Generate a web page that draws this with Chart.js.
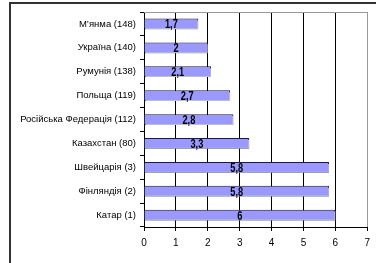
<!DOCTYPE html>
<html>
<head>
<meta charset="utf-8">
<script src="https://cdn.jsdelivr.net/npm/chart.js@4"></script>
<style>
  html, body { margin: 0; padding: 0; background: #fff; }
  #wrap { position: relative; width: 376px; height: 263px; overflow: hidden; }
  #frame { position: absolute; left: 9px; top: 2px; width: 400px; height: 300px;
           border-left: 2px solid #333; border-top: 2px solid #333; }
  canvas { position: absolute; left: 0; top: 0; }
</style>
</head>
<body>
<div id="wrap">
  <div id="frame"></div>
  <canvas id="chart" width="376" height="263"></canvas>
</div>
<script>
// Countries with their rank, top to bottom as in the picture
const countries = [
    'М’янма (148)',
    'Україна (140)',
    'Румунія (138)',
    'Польща (119)',
    'Російська Федерація (112)',
    'Казахстан (80)',
    'Швейцарія (3)',
    'Фінляндія (2)',
    'Катар (1)'
];
const scores = [1.7, 2, 2.1, 2.7, 2.8, 3.3, 5.8, 5.8, 6];
const xTicks = [0, 1, 2, 3, 4, 5, 6, 7];

// Draw value labels in the middle of each bar (narrow bold text)
const barLabels = {
    id: 'barLabels',
    afterDatasetsDraw(chart) {
        const ctx = chart.ctx;
        const meta = chart.getDatasetMeta(0);
        meta.data.forEach((bar, i) => {
            const text = String(scores[i]).replace('.', ',');
            const cx = (bar.x + bar.base) / 2;
            ctx.save();
            ctx.translate(cx, bar.y + 1);
            ctx.scale(0.74, 1);
            ctx.font = 'bold 12.5px "Liberation Sans", Arial, sans-serif';
            ctx.fillStyle = '#000';
            ctx.textAlign = 'center';
            ctx.textBaseline = 'middle';
            ctx.fillText(text, 0, 0);
            ctx.restore();
        });
    }
};

// Gray frame on top of plot area, and bar shadows
const plotFrame = {
    id: 'plotFrame',
    beforeDatasetDraw(chart) {
        const ctx = chart.ctx;
        ctx.save();
        ctx.shadowColor = '#c0c0c0';
        ctx.shadowOffsetX = 1;
        ctx.shadowOffsetY = 1;
        ctx.shadowBlur = 0;
    },
    afterDatasetDraw(chart) {
        chart.ctx.restore();
    },
    afterDraw(chart) {
        const { ctx, chartArea } = chart;
        ctx.save();
        ctx.strokeStyle = '#999';
        ctx.lineWidth = 1;
        ctx.beginPath();
        ctx.moveTo(chartArea.left, chartArea.top + 0.5);
        ctx.lineTo(chartArea.right, chartArea.top + 0.5);
        ctx.stroke();
        ctx.restore();
    }
};

new Chart(document.getElementById('chart'), {
    type: 'bar',
    data: {
        labels: countries,
        datasets: [{
            data: scores,
            backgroundColor: '#9999ff',
            borderColor: '#1a1a40',
            borderWidth: 1,
            barPercentage: 0.45,
            categoryPercentage: 1
        }]
    },
    options: {
        indexAxis: 'y',
        responsive: false,
        animation: false,
        layout: { padding: { top: 12, right: 7, left: 0, bottom: 0 } },
        plugins: {
            legend: { display: false },
            tooltip: { enabled: false }
        },
        scales: {
            x: {
                min: 0,
                max: 7,
                afterBuildTicks: (scale) => {
                    scale.ticks = xTicks.map(v => ({ value: v }));
                },
                afterFit: (scale) => { scale.height = 36; },
                border: { color: '#000', width: 1 },
                grid: {
                    color: (c) => c.tick && c.tick.value === 7 ? '#999' : '#000',
                    tickLength: 4,
                    tickColor: '#000'
                },
                ticks: {
                    color: '#000',
                    padding: 6,
                    font: { family: '"Liberation Sans", Arial, sans-serif', size: 10 }
                }
            },
            y: {
                afterFit: (scale) => { scale.width = 144; },
                border: { color: '#000', width: 1 },
                grid: {
                    drawOnChartArea: false,
                    tickLength: 4,
                    tickColor: '#000',
                    offset: true
                },
                ticks: {
                    color: '#000',
                    padding: 4,
                    font: { family: '"Liberation Sans", Arial, sans-serif', size: 9.5 }
                }
            }
        }
    },
    plugins: [barLabels, plotFrame]
});
</script>
</body>
</html>
